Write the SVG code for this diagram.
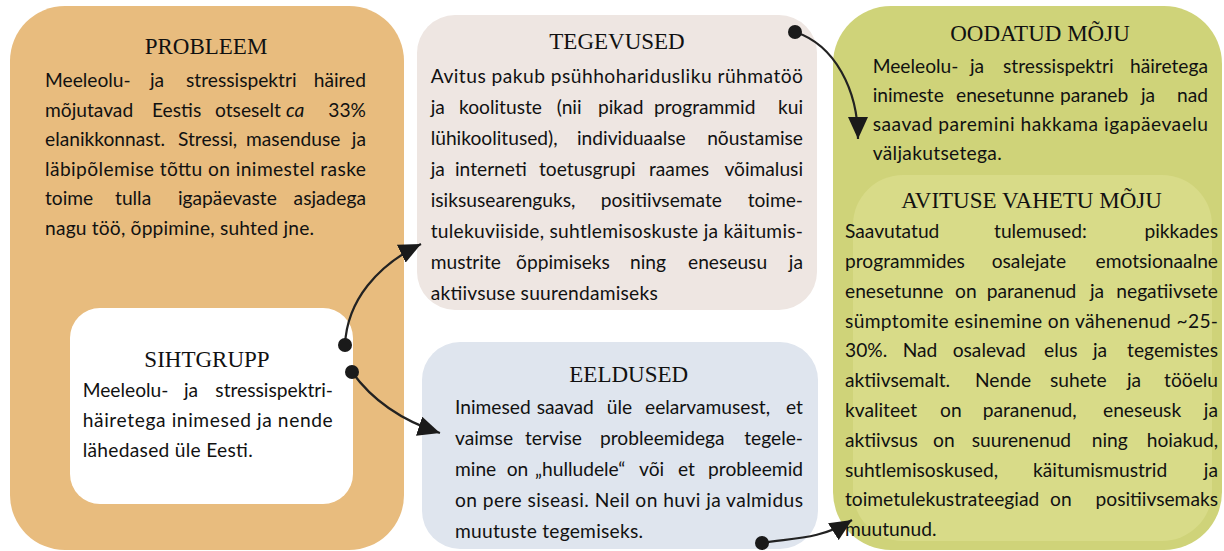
<svg xmlns="http://www.w3.org/2000/svg" width="1224" height="551" viewBox="0 0 1224 551">
<style>
.b{font-family:Lato,"Liberation Sans",sans-serif;font-size:19.2px;fill:#111}
.t{font-family:"Liberation Serif",serif;font-size:23px;fill:#111;text-anchor:middle}
.e{text-anchor:end}
.i{font-style:italic}
.c{fill:none;stroke:#222;stroke-width:2.2}
</style>
<defs>
<marker id="arr" markerWidth="24" markerHeight="20" refX="22" refY="10" orient="auto" markerUnits="userSpaceOnUse"><path d="M0,0 L22,10 L0,20 z" fill="#1a1a1a"/></marker>
<marker id="dot" markerWidth="16" markerHeight="16" refX="8" refY="8" markerUnits="userSpaceOnUse"><circle cx="8" cy="8" r="7" fill="#1a1a1a"/></marker>
</defs>
<rect width="1224" height="551" fill="#fff"/>

<g id="probleem">
<rect x="10" y="6" width="394" height="544" rx="55" fill="#E8BC7E"/>
<text class="t" x="206" y="54">PROBLEEM</text>
<text class="b" y="87.3"><tspan x="45">Meeleolu-</tspan><tspan x="150">ja</tspan><tspan x="186">stressispektri</tspan><tspan x="366" class="e">häired</tspan></text>
<text class="b" y="116.8"><tspan x="45">mõjutavad</tspan><tspan x="152">Eestis</tspan><tspan x="215">otseselt</tspan><tspan x="286" class="i">ca</tspan><tspan x="366" class="e">33%</tspan></text>
<text class="b" y="146.3"><tspan x="45">elanikkonnast.</tspan><tspan x="178">Stressi,</tspan><tspan x="246">masenduse</tspan><tspan x="366" class="e">ja</tspan></text>
<text class="b" x="45" y="175.8" textLength="321" lengthAdjust="spacing">läbipõlemise tõttu on inimestel raske</text>
<text class="b" y="205.3"><tspan x="45">toime</tspan><tspan x="115">tulla</tspan><tspan x="178">igapäevaste</tspan><tspan x="366" class="e">asjadega</tspan></text>
<text class="b" x="45" y="234.8" textLength="269" lengthAdjust="spacing">nagu töö, õppimine, suhted jne.</text>
</g>

<g id="sihtgrupp">
<rect x="70" y="308" width="283" height="196" rx="30" fill="#fff"/>
<text class="t" x="207" y="366.5">SIHTGRUPP</text>
<text class="b" y="397.3"><tspan x="82.7">Meeleolu-</tspan><tspan x="184">ja</tspan><tspan x="333" class="e">stressispektri-</tspan></text>
<text class="b" x="82.7" y="427" textLength="250" lengthAdjust="spacing">häiretega inimesed ja nende</text>
<text class="b" x="82.7" y="456.7" textLength="170" lengthAdjust="spacing">lähedased üle Eesti.</text>
</g>

<g id="tegevused">
<rect x="417" y="15" width="400" height="295" rx="38" fill="#EEE6E2"/>
<text class="t" x="617" y="49">TEGEVUSED</text>
<text class="b" x="430.7" y="82.7" textLength="372.3" lengthAdjust="spacing">Avitus pakub psühhoharidusliku rühmatöö</text>
<text class="b" y="113.7"><tspan x="430.7">ja</tspan><tspan x="459">koolituste</tspan><tspan x="556.7">(nii</tspan><tspan x="598">pikad</tspan><tspan x="654">programmid</tspan><tspan x="803" class="e">kui</tspan></text>
<text class="b" y="144.7"><tspan x="430.7">lühikoolitused),</tspan><tspan x="577">individuaalse</tspan><tspan x="803" class="e">nõustamise</tspan></text>
<text class="b" y="175.7"><tspan x="430.7">ja</tspan><tspan x="455">interneti</tspan><tspan x="539">toetusgrupi</tspan><tspan x="649">raames</tspan><tspan x="803" class="e">võimalusi</tspan></text>
<text class="b" y="206.7"><tspan x="430.7">isiksusearenguks,</tspan><tspan x="600.7">positiivsemate</tspan><tspan x="803" class="e">toime-</tspan></text>
<text class="b" x="430.7" y="237.7" textLength="372.3" lengthAdjust="spacing">tulekuviiside, suhtlemisoskuste ja käitumis-</text>
<text class="b" y="268.7"><tspan x="430.7">mustrite</tspan><tspan x="516">õppimiseks</tspan><tspan x="630">ning</tspan><tspan x="688">eneseusu</tspan><tspan x="803" class="e">ja</tspan></text>
<text class="b" x="430.7" y="299.7" textLength="227" lengthAdjust="spacing">aktiivsuse suurendamiseks</text>
</g>

<g id="eeldused">
<rect x="422" y="342" width="396" height="207" rx="38" fill="#DFE5EE"/>
<text class="t" x="628.7" y="381.7">EELDUSED</text>
<text class="b" y="414"><tspan x="455">Inimesed</tspan><tspan x="536.7">saavad</tspan><tspan x="606.7">üle</tspan><tspan x="645">eelarvamusest,</tspan><tspan x="803" class="e">et</tspan></text>
<text class="b" y="445.1"><tspan x="455">vaimse</tspan><tspan x="525">tervise</tspan><tspan x="600">probleemidega</tspan><tspan x="803" class="e">tegele-</tspan></text>
<text class="b" y="476.2"><tspan x="455">mine</tspan><tspan x="506.7">on</tspan><tspan x="535">„hulludele“</tspan><tspan x="639">või</tspan><tspan x="678">et</tspan><tspan x="803" class="e">probleemid</tspan></text>
<text class="b" x="455" y="507.3" textLength="348" lengthAdjust="spacing">on pere siseasi. Neil on huvi ja valmidus</text>
<text class="b" x="455" y="538.4" textLength="188" lengthAdjust="spacing">muutuste tegemiseks.</text>
</g>

<g id="oodatud-moju">
<rect x="833" y="6" width="389" height="544" rx="58" fill="#CFD379"/>
<text class="t" x="1040" y="40.7">OODATUD MÕJU</text>
<text class="b" y="72.7"><tspan x="872.7">Meeleolu-</tspan><tspan x="970">ja</tspan><tspan x="1003">stressispektri</tspan><tspan x="1208" class="e">häiretega</tspan></text>
<text class="b" y="101.8"><tspan x="872.7">inimeste</tspan><tspan x="956">enesetunne</tspan><tspan x="1060">paraneb</tspan><tspan x="1141">ja</tspan><tspan x="1208" class="e">nad</tspan></text>
<text class="b" x="872.7" y="130.9" textLength="335.3" lengthAdjust="spacing">saavad paremini hakkama igapäevaelu</text>
<text class="b" x="872.7" y="160" textLength="129" lengthAdjust="spacing">väljakutsetega.</text>
</g>

<g id="avituse-vahetu-moju">
<rect x="853" y="175" width="359" height="366" rx="50" fill="#D8DB88"/>
<text class="t" x="1031.5" y="208">AVITUSE VAHETU MÕJU</text>
<text class="b" y="238.3"><tspan x="845">Saavutatud</tspan><tspan x="994">tulemused:</tspan><tspan x="1218" class="e">pikkades</tspan></text>
<text class="b" y="268.1"><tspan x="845">programmides</tspan><tspan x="991.7">osalejate</tspan><tspan x="1218" class="e">emotsionaalne</tspan></text>
<text class="b" y="297.8"><tspan x="845">enesetunne</tspan><tspan x="955">on</tspan><tspan x="986.7">paranenud</tspan><tspan x="1090">ja</tspan><tspan x="1218" class="e">negatiivsete</tspan></text>
<text class="b" x="845" y="327.6" textLength="373" lengthAdjust="spacing">sümptomite esinemine on vähenenud ~25-</text>
<text class="b" y="357.4"><tspan x="845">30%.</tspan><tspan x="902.7">Nad</tspan><tspan x="952.7">osalevad</tspan><tspan x="1044">elus</tspan><tspan x="1093">ja</tspan><tspan x="1218" class="e">tegemistes</tspan></text>
<text class="b" y="387.2"><tspan x="845">aktiivsemalt.</tspan><tspan x="975">Nende</tspan><tspan x="1050">suhete</tspan><tspan x="1127">ja</tspan><tspan x="1218" class="e">tööelu</tspan></text>
<text class="b" y="416.9"><tspan x="845">kvaliteet</tspan><tspan x="940">on</tspan><tspan x="982.7">paranenud,</tspan><tspan x="1103">eneseusk</tspan><tspan x="1218" class="e">ja</tspan></text>
<text class="b" y="446.7"><tspan x="845">aktiivsus</tspan><tspan x="933">on</tspan><tspan x="971.7">suurenenud</tspan><tspan x="1091.7">ning</tspan><tspan x="1218" class="e">hoiakud,</tspan></text>
<text class="b" y="476.5"><tspan x="845">suhtlemisoskused,</tspan><tspan x="1033">käitumismustrid</tspan><tspan x="1218" class="e">ja</tspan></text>
<text class="b" y="506.2"><tspan x="845">toimetulekustrateegiad</tspan><tspan x="1050">on</tspan><tspan x="1218" class="e">positiivsemaks</tspan></text>
<text class="b" x="845" y="536">muutunud.</text>
</g>

<g id="connectors">
<path class="c" d="M345,345 C347,300 378,265 421,244" marker-start="url(#dot)" marker-end="url(#arr)"/>
<path class="c" d="M352,372 C372,400 400,420 440,433" marker-start="url(#dot)" marker-end="url(#arr)"/>
<path class="c" d="M795,32 C835,45 858,90 858,139" marker-start="url(#dot)" marker-end="url(#arr)"/>
<path class="c" d="M762,543 C790,538 820,540 852,520" marker-start="url(#dot)" marker-end="url(#arr)"/>
</g>
</svg>
